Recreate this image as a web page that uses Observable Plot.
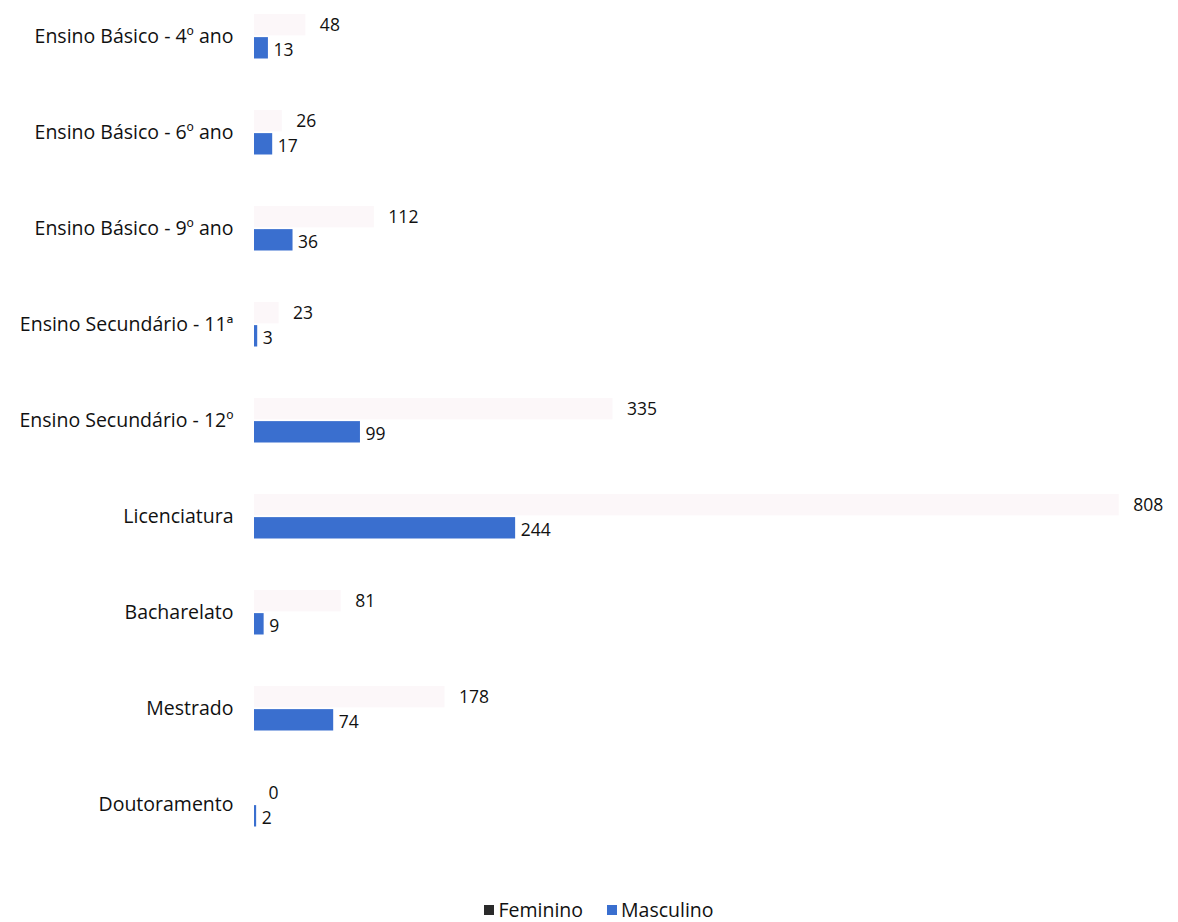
<!DOCTYPE html>
<html>
<head>
<meta charset="utf-8">
<script src="https://cdn.jsdelivr.net/npm/d3@7"></script>
<script src="https://cdn.jsdelivr.net/npm/@observablehq/plot@0.6"></script>
<style>
  body { margin: 0; background: #fff; font-family: "Open Sans", sans-serif; }
  #chart { width: 1178px; }
  .legend { display: flex; justify-content: center; gap: 24px; margin-top: 28px; padding-left: 20px;
            font-family: "Open Sans", sans-serif; font-size: 19.5px; color: #111; line-height: 24px; }
  .legend span.item { display: flex; align-items: center; gap: 4px; }
  .legend span.sw { width: 10px; height: 10px; display: inline-block; }
</style>
</head>
<body>
<div id="chart"></div>
<script>
const categories = [
  "Ensino Básico - 4º ano",
  "Ensino Básico - 6º ano",
  "Ensino Básico - 9º ano",
  "Ensino Secundário - 11ª",
  "Ensino Secundário - 12º",
  "Licenciatura",
  "Bacharelato",
  "Mestrado",
  "Doutoramento"
];
const feminino = [48, 26, 112, 23, 335, 808, 81, 178, 0];
const masculino = [13, 17, 36, 3, 99, 244, 9, 74, 2];
const series = ["Feminino", "Masculino"];
const barColors = ["#fcf7f9", "#3a6fcf"];
const legendColors = ["#2a2a2a", "#3a6fcf"];

const fem = categories.map((c, i) => ({category: c, value: feminino[i]}));
const mas = categories.map((c, i) => ({category: c, value: masculino[i]}));

const H = 870, MT = 12, MB = 38;
const n = categories.length;
const step = (H - MT - MB) / (n - 0.5);
const bw = step * 0.5;

const chart = Plot.plot({
  width: 1178,
  height: H,
  marginTop: MT,
  marginBottom: MB,
  marginLeft: 254,
  marginRight: 20,
  style: {fontFamily: "Open Sans, sans-serif", fontSize: "19.5px", color: "#111", background: "#fff"},
  x: {domain: [0, 826], range: [254, 1138], axis: null},
  y: {domain: categories, paddingInner: 0.5, paddingOuter: 0, align: 0, label: null, tickSize: 0, tickPadding: 21},
  marks: [
    Plot.barX(fem, {x: "value", y: "category", fill: barColors[0], insetTop: 2, insetBottom: bw / 2 + 0.5}),
    Plot.barX(mas, {x: "value", y: "category", fill: barColors[1], insetTop: bw / 2 + 1, insetBottom: 1.5}),
    Plot.text(fem, {x: "value", y: "category", text: d => String(d.value), dx: 14, dy: -11, textAnchor: "start", fill: "#111", fontSize: 17.5}),
    Plot.text(mas, {x: "value", y: "category", text: d => String(d.value), dx: 5, dy: 14, textAnchor: "start", fill: "#111", fontSize: 17.5})
  ]
});
document.getElementById("chart").appendChild(chart);

const legend = document.createElement("div");
legend.className = "legend";
series.forEach((s, i) => {
  const item = document.createElement("span");
  item.className = "item";
  const sw = document.createElement("span");
  sw.className = "sw";
  sw.style.background = legendColors[i];
  item.appendChild(sw);
  item.appendChild(document.createTextNode(s));
  legend.appendChild(item);
});
document.getElementById("chart").appendChild(legend);
</script>
</body>
</html>
